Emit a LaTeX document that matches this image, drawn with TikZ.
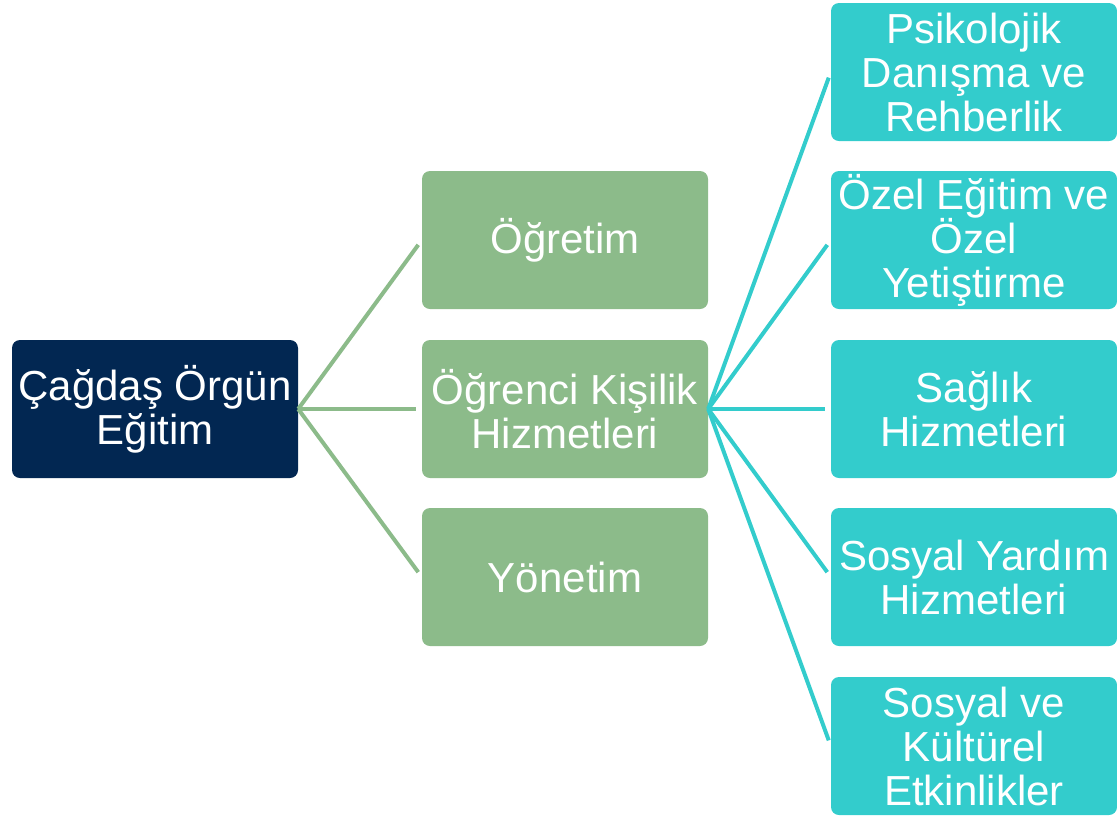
\documentclass[tikz,border=0pt]{standalone}
\usepackage{fontspec}
\setmainfont{Liberation Sans}
\usetikzlibrary{positioning}
\definecolor{navy}{HTML}{022752}
\definecolor{sage}{HTML}{8CBB8A}
\definecolor{teal}{HTML}{33CCCC}
\newcommand*{\BoxW}{286pt}
\newcommand*{\BoxH}{138pt}
\tikzset{
  box/.style={rounded corners=8pt, draw=none, text=white, align=center,
    minimum width=\BoxW, minimum height=\BoxH, inner sep=0pt,
    font=\fontsize{42}{44}\selectfont},
  rootbox/.style={box, fill=navy},
  midbox/.style={box, fill=sage},
  leafbox/.style={box, fill=teal},
  midline/.style={draw=sage, line width=4pt, shorten >=6pt},
  leafline/.style={draw=teal, line width=4pt, shorten >=6pt}
}

\begin{document}
\begin{tikzpicture}[x=1pt,y=-1pt]
    \useasboundingbox (0,0) rectangle (1117,815);
    % root
    \node[rootbox] (root) at (155,409) {Çağdaş Örgün\\Eğitim};
    % middle column
    \node[midbox] (ogretim) at (565,240) {Öğretim};
    \node[midbox] (ogrenci) at (565,409) {Öğrenci Kişilik\\Hizmetleri};
    \node[midbox] (yonetim) at (565,577) {Yönetim};
    % right column
    \foreach \name/\y/\label in {pdr/72/{Psikolojik\\Danışma ve\\Rehberlik},
        ozel/240/{Özel Eğitim ve\\Özel\\Yetiştirme},
        saglik/409/{Sağlık\\Hizmetleri},
        sosyal/577/{Sosyal Yardım\\Hizmetleri},
        kultur/746/{Sosyal ve\\Kültürel\\Etkinlikler}} {
      \node[leafbox] (\name) at (974,\y) {\label};
    }
    % connectors
    \foreach \child in {ogretim, ogrenci, yonetim}
      \draw[midline] (root.east) -- (\child.west);
    \foreach \child in {pdr, ozel, saglik, sosyal, kultur}
      \draw[leafline] (ogrenci.east) -- (\child.west);
\end{tikzpicture}
\end{document}
